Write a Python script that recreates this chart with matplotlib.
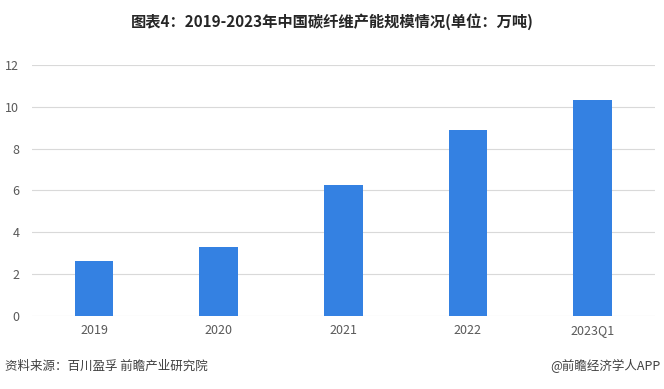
import matplotlib.pyplot as plt
import numpy as np

plt.rcParams['font.family'] = ['Noto Sans CJK SC', 'DejaVu Sans']

years = ['2019', '2020', '2021', '2022', '2023Q1']
capacity = [2.63, 3.30, 6.26, 8.89, 10.33]
yticks = [0, 2, 4, 6, 8, 10, 12]

fig = plt.figure(figsize=[6.64, 3.89], dpi=100)
ax = fig.add_axes([0.048, 0.1877, 0.938, 0.6452])

x = np.arange(len(years))
ax.bar(x, capacity, width=0.31, color='#3481e2', zorder=3)

ax.set_xlim(-0.5, len(years) - 0.5)
ax.set_ylim(0, 12)
ax.set_yticks(yticks)
ax.set_xticks(x)
ax.set_xticklabels(years)
ax.grid(axis='y', color='#d9d9d9', linewidth=0.8, zorder=0)
for s in ax.spines.values():
    s.set_visible(False)
ax.tick_params(length=0, labelsize=9, colors='#595959', pad=6)
ax.tick_params(axis='y', pad=9)

fig.text(0.5, 0.945, '图表4：2019-2023年中国碳纤维产能规模情况(单位：万吨)',
         ha='center', va='center', fontsize=11, fontweight='bold', color='#262626')
fig.text(0.008, 0.058, '资料来源：百川盈孚 前瞻产业研究院', ha='left', va='center',
         fontsize=9, color='#404040')
fig.text(0.995, 0.058, '@前瞻经济学人APP', ha='right', va='center',
         fontsize=9, color='#404040')

fig.savefig('out.png', dpi=100)
